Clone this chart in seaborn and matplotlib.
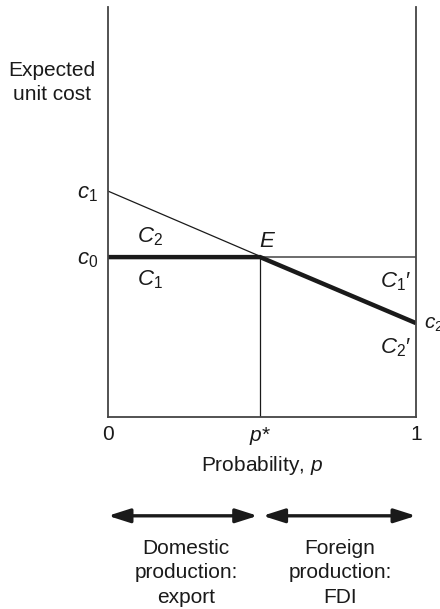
import matplotlib
matplotlib.use("Agg")
import matplotlib.pyplot as plt
import seaborn as sns
import pandas as pd

# Data
p_star = 0.494
c1 = 0.551
c0 = 0.39
c2 = 0.229
x_ticks = [0, p_star, 1]
x_tick_labels = ["0", r"$p$*", "1"]

sns.set_theme(style="white")
plt.rcParams["font.family"] = ["Liberation Sans", "DejaVu Sans"]
plt.rcParams["mathtext.fontset"] = "custom"
plt.rcParams["mathtext.rm"] = "Liberation Sans"
plt.rcParams["mathtext.it"] = "Liberation Sans:italic"

fig = plt.figure(figsize=(4.4, 6.09), dpi=100)
ax = fig.add_axes([108/440, 1 - 417/609, 308/440, 410/609])

ink = "#1a1a1a"
axc = "#444444"

thin_c2 = pd.DataFrame({"p": [0, p_star], "cost": [c1, c1 - (c1 - c2) * p_star]})
thin_c0 = pd.DataFrame({"p": [p_star, 1], "cost": [c0, c0]})
thick = pd.DataFrame({"p": [0, p_star, 1], "cost": [c0, c0, c2]})

sns.lineplot(data=thin_c2, x="p", y="cost", ax=ax, color=ink, lw=0.9, estimator=None, sort=False)
sns.lineplot(data=thin_c0, x="p", y="cost", ax=ax, color=axc, lw=1.1, estimator=None, sort=False)
sns.lineplot(data=thick, x="p", y="cost", ax=ax, color=ink, lw=3.2, estimator=None, sort=False,
             solid_capstyle="butt", solid_joinstyle="miter")
ax.plot([p_star, p_star], [0, c0], color=ink, lw=0.9)

ax.set_xlim(0, 1)
ax.set_ylim(0, 1)
ax.spines["top"].set_visible(False)
for s in ["left", "bottom", "right"]:
    ax.spines[s].set_color(axc)
    ax.spines[s].set_linewidth(1.3)

fs = 15
ax.set_xticks(x_ticks)
ax.set_xticklabels(x_tick_labels, fontsize=fs)
ax.set_yticks([c1, c0])
ax.set_yticklabels([r"$c_1$", r"$c_0$"], fontsize=16)
ax.tick_params(length=0, colors=ink)
ax.tick_params(axis="x", pad=6)
ax.tick_params(axis="y", pad=7)
ax.set_xlabel(r"Probability, $p$", fontsize=fs, color=ink, labelpad=5)
ax.set_ylabel("")

ax.text(-0.182, 0.816, "Expected\nunit cost", ha="center", va="center", fontsize=fs,
        color=ink, linespacing=1.38)
ax.text(0.135, 0.44, r"$C_2$", fontsize=16, ha="center", va="center", color=ink)
ax.text(0.135, 0.334, r"$C_1$", fontsize=16, ha="center", va="center", color=ink)
ax.text(p_star + 0.025, 0.427, r"$E$", fontsize=16, ha="center", va="center", color=ink)
ax.text(0.935, 0.33, r"$C_1$′", fontsize=16, ha="center", va="center", color=ink)
ax.text(0.935, 0.17, r"$C_2$′", fontsize=16, ha="center", va="center", color=ink)
ax.text(1.025, 0.225, r"$c_2$", fontsize=15, ha="left", va="center", color=ink, clip_on=False)

ya = -0.241
arrow_kw = dict(arrowstyle="<|-|>,head_length=1.1,head_width=0.35", color=ink, lw=2.4,
                shrinkA=0, shrinkB=0)
ax.annotate("", xy=(0, ya), xytext=(p_star - 0.008, ya), xycoords="data",
            arrowprops=arrow_kw, annotation_clip=False)
ax.annotate("", xy=(p_star + 0.008, ya), xytext=(1, ya), xycoords="data",
            arrowprops=arrow_kw, annotation_clip=False)

ax.text(0.253, -0.38, "Domestic\nproduction:\nexport", ha="center", va="center",
        fontsize=fs, color=ink, linespacing=1.38)
ax.text(0.753, -0.38, "Foreign\nproduction:\nFDI", ha="center", va="center",
        fontsize=fs, color=ink, linespacing=1.38)

fig.savefig("out.png", dpi=100)
